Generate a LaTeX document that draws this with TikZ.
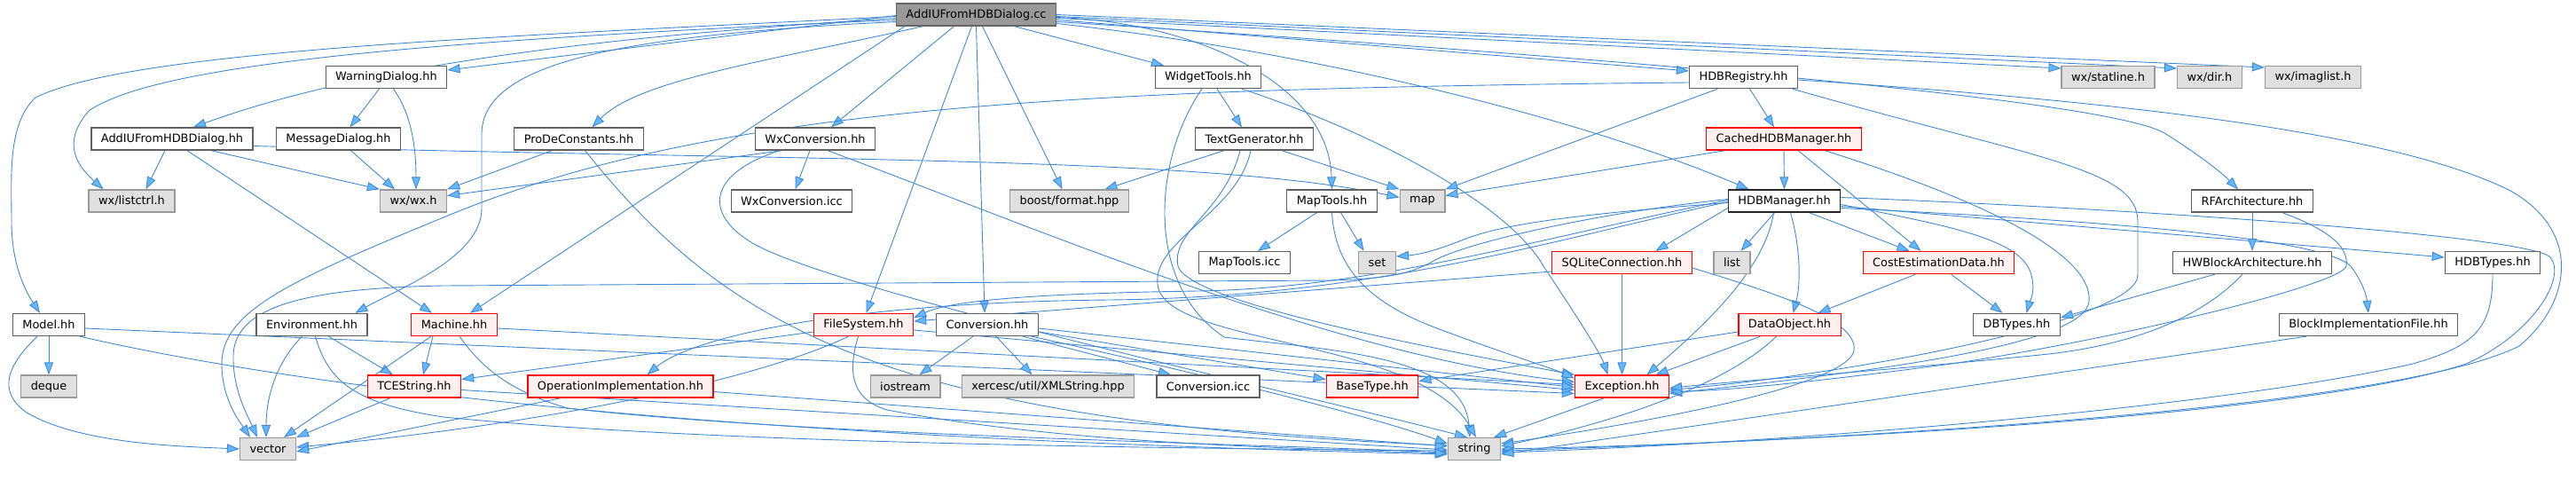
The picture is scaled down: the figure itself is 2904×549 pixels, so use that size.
\documentclass[tikz,border=0pt]{standalone}
\usepackage{fontspec}
\setmainfont{DejaVu Sans}
\usetikzlibrary{arrows.meta}
\pgfdeclarelayer{edges}
\pgfsetlayers{edges,main}
\definecolor{edgeblue}{HTML}{4188D4}
\definecolor{tipblue}{HTML}{63B8FF}
\definecolor{sysfill}{HTML}{E0E0E0}
\definecolor{truncfill}{HTML}{FFF0F0}

\begin{document}
\begin{tikzpicture}[x=1pt,y=-1pt,
  every node/.style={font=\fontsize{12.9}{15}\selectfont, minimum height=25pt, inner xsep=11pt, inner ysep=0pt, line width=1.3pt},
  hdr/.style={draw=black!62, fill=white},
  sys/.style={draw=black!40, fill=sysfill},
  trunc/.style={draw=red, fill=truncfill},
  rootfile/.style={draw=black!60, fill=black!40},
  inc/.style={draw=edgeblue, line width=0.9pt, -{Triangle[length=14pt,width=10pt,fill=tipblue]}}]
  \useasboundingbox (0,0) rectangle (2904,549);

  % rows of the include graph
  \node[rootfile] (cc) at (1100.5,16.5) {AddIUFromHDBDialog.cc};

  \node[hdr] (wdlg) at (435.5,87) {WarningDialog.hh};
  \node[hdr] (widget) at (1362,87) {WidgetTools.hh};
  \node[hdr] (hdbreg) at (1965.5,87) {HDBRegistry.hh};
  \node[sys] (statline) at (2376.5,87) {wx/statline.h};
  \node[sys] (dir) at (2491,87) {wx/dir.h};
  \node[sys] (imaglist) at (2607.5,87) {wx/imaglist.h};

  \node[hdr] (hh) at (194,156.5) {AddIUFromHDBDialog.hh};
  \node[hdr] (msg) at (381.5,156.5) {MessageDialog.hh};
  \node[hdr] (prode) at (652.5,156.5) {ProDeConstants.hh};
  \node[hdr] (wxconv) at (919,156.5) {WxConversion.hh};
  \node[hdr] (textgen) at (1414,156.5) {TextGenerator.hh};
  \node[trunc] (cached) at (2011,156.5) {CachedHDBManager.hh};

  \node[sys] (listctrl) at (148.5,226.5) {wx/listctrl.h};
  \node[sys] (wxh) at (466,226.5) {wx/wx.h};
  \node[hdr] (wxicc) at (892.5,226.5) {WxConversion.icc};
  \node[sys] (boost) at (1205.5,226.5) {boost/format.hpp};
  \node[hdr] (maptools) at (1501.5,226.5) {MapTools.hh};
  \node[sys] (map) at (1603.5,226.5) {map};
  \node[hdr, draw=black!85] (hdbman) at (2011.5,226.5) {HDBManager.hh};
  \node[hdr] (rfarch) at (2539,226.5) {RFArchitecture.hh};

  \node[hdr] (mticc) at (1403,296) {MapTools.icc};
  \node[sys] (set) at (1552.5,296) {set};
  \node[trunc] (sqlite) at (1828.5,296) {SQLiteConnection.hh};
  \node[sys] (list) at (1952.5,296) {list};
  \node[trunc] (costest) at (2185.5,296) {CostEstimationData.hh};
  \node[hdr] (hwblock) at (2539,296) {HWBlockArchitecture.hh};
  \node[hdr] (hdbtypes) at (2810,296) {HDBTypes.hh};

  \node[hdr] (model) at (55,366) {Model.hh};
  \node[hdr] (env) at (351.5,366) {Environment.hh};
  \node[trunc] (machine) at (512,366) {Machine.hh};
  \node[trunc] (fs) at (973.5,366) {FileSystem.hh};
  \node[hdr] (conv) at (1113,366) {Conversion.hh};
  \node[trunc] (dataobj) at (2017.5,366) {DataObject.hh};
  \node[hdr] (dbtypes) at (2273.5,366) {DBTypes.hh};
  \node[hdr] (blockimpl) at (2670,366) {BlockImplementationFile.hh};

  \node[sys] (deque) at (55,435.5) {deque};
  \node[trunc] (tcestr) at (467,435.5) {TCEString.hh};
  \node[trunc] (opimpl) at (699.5,435.5) {OperationImplementation.hh};
  \node[sys] (iostream) at (1020.5,435.5) {iostream};
  \node[sys] (xerces) at (1181.5,435.5) {xercesc/util/XMLString.hpp};
  \node[hdr] (convicc) at (1362,435.5) {Conversion.icc};
  \node[trunc] (basetype) at (1547,435.5) {BaseType.hh};
  \node[trunc] (exc) at (1828.5,435.5) {Exception.hh};

  \node[sys] (vector) at (302,506) {vector};
  \node[sys] (string) at (1662,506) {string};

  \begin{pgfonlayer}{edges}
  % AddIUFromHDBDialog.cc
  \draw[inc] ([yshift=-2]cc.west) .. controls (600,40) and (150,55) .. (40,110) .. controls (8,140) and (13,200) .. (13,250) .. controls (13,300) and (30,330) .. ([xshift=-10]model.north);
  \draw[inc] ([yshift=-4]cc.west) .. controls (700,40) and (420,70) .. ([xshift=24]hh.north);
  \draw[inc] ([yshift=-6]cc.west) .. controls (500,45) and (180,70) .. (100,125) .. controls (70,160) and (85,185) .. ([xshift=-32]listctrl.north);
  \draw[inc] ([yshift=-1]cc.west) -- ([yshift=8]wdlg.east);
  \draw[inc] ([xshift=-60]cc.south) .. controls (860,70) and (720,90) .. ([xshift=15]prode.north);
  \draw[inc] ([xshift=-25]cc.south) -- ([xshift=18]wxconv.north);
  \draw[inc] ([xshift=10]cc.south west) -- ([xshift=18]machine.north);
  \draw[inc] ([yshift=-8]cc.west) .. controls (700,40) and (545,70) .. (543,150) -- (543,235) .. controls (543,290) and (450,325) .. ([xshift=49]env.north);
  \draw[inc] ([xshift=-5]cc.south) -- ([xshift=3]fs.north);
  \draw[inc] (cc.south) -- ([xshift=-3]conv.north);
  \draw[inc] ([xshift=7]cc.south) -- ([xshift=-8]boost.north);
  \draw[inc] ([xshift=43]cc.south) -- ([xshift=-50]widget.north);
  \draw[inc] ([yshift=-3]cc.east) .. controls (1350,25) and (1498,95) .. (maptools.north);
  \draw[inc] ([yshift=-6]cc.east) -- ([yshift=7]hdbreg.west);
  \draw[inc] ([yshift=-10]cc.east) .. controls (1500,60) and (1800,140) .. ([xshift=-40]hdbman.north);
  \draw[inc] ([yshift=-4]cc.east) -- ([yshift=10]statline.west);
  \draw[inc] ([yshift=-2]cc.east) -- ([yshift=10]dir.west);
  \draw[inc] (cc.east) -- ([yshift=11]imaglist.west);
  \draw[inc] ([yshift=-8]cc.east) .. controls (1900,70) and (2380,115) .. (2440,150) .. controls (2480,175) and (2505,195) .. ([xshift=-16]rfarch.north);

  % dialogs and wx
  \draw[inc] ([xshift=-8]hh.south) -- ([xshift=16]listctrl.north);
  \draw[inc] ([xshift=44]hh.south) -- (wxh.north west);
  \draw[inc] ([xshift=17]hh.south) -- ([xshift=-25]machine.north);
  \draw[inc] ([yshift=-8]hh.east) .. controls (900,182) and (1350,175) .. ([yshift=4]map.west);
  \draw[inc] ([xshift=-8]wdlg.south) -- ([xshift=13]msg.north);
  \draw[inc] ([xshift=8]wdlg.south) .. controls (465,130) and (469,170) .. ([xshift=3]wxh.north);
  \draw[inc] ([xshift=14]msg.south) -- ([xshift=-21]wxh.north);
  \draw[inc] ([xshift=-30]prode.south) -- (wxh.north east);
  \draw[inc] ([xshift=7]prode.south) .. controls (820,370) and (1000,475) .. ([yshift=4]string.west);
  \draw[inc] ([xshift=-37]wxconv.south) -- ([yshift=6]wxh.east);
  \draw[inc] ([xshift=-6]wxconv.south) -- ([xshift=4]wxicc.north);
  \draw[inc] ([xshift=14]wxconv.south) .. controls (1150,250) and (1500,400) .. ([yshift=5]exc.west);
  \draw[inc] ([xshift=-40]wxconv.south) .. controls (800,195) and (790,240) .. (850,275) .. controls (950,330) and (1450,440) .. ([xshift=-8]string.north);

  % left part
  \draw[inc] ([xshift=-11]env.south) .. controls (310,410) and (300,450) .. ([xshift=-2]vector.north);
  \draw[inc] ([xshift=19]env.south) -- ([xshift=-24]tcestr.north);
  \draw[inc] ([xshift=4]env.south) .. controls (370,430) and (400,455) .. (500,470) .. controls (800,500) and (1300,505) .. ([yshift=-2]string.west);
  \draw[inc] ([xshift=-24]machine.south) -- ([xshift=10]tcestr.north);
  \draw[inc] ([xshift=-26]machine.south) -- ([xshift=18]vector.north);
  \draw[inc] ([xshift=6]machine.south) .. controls (540,410) and (570,440) .. (640,460) .. controls (900,490) and (1400,500) .. ([yshift=-4]string.west);
  \draw[inc] ([yshift=-4]machine.east) -- ([yshift=2]exc.west);
  \draw[inc] (model.south) -- (deque.north);
  \draw[inc] ([xshift=-13]model.south) .. controls (10,410) and (-5,440) .. (30,465) .. controls (90,500) and (200,503) .. (vector.west);
  \draw[inc] ([yshift=-4]model.east) -- ([yshift=-8]exc.west);
  \draw[inc] ([xshift=35]model.south) .. controls (400,450) and (900,495) .. ([yshift=-6]string.west);
  \draw[inc] ([xshift=-27]tcestr.south) -- (vector.north east);
  \draw[inc] ([yshift=-4]tcestr.east) -- ([yshift=-1]string.west);
  \draw[inc] ([yshift=-8]fs.west) -- ([yshift=8]tcestr.east);
  \draw[inc] ([xshift=-17]fs.south) .. controls (850,430) and (600,480) .. ([yshift=2]vector.east);
  \draw[inc] ([xshift=-6]fs.south) .. controls (955,420) and (960,450) .. (1000,462) .. controls (1200,500) and (1450,505) .. ([yshift=-5]string.west);
  \draw[inc] ([yshift=-6]fs.east) -- ([yshift=-4]exc.west);
  \draw[inc] ([xshift=-67]opimpl.south) -- ([yshift=-3]vector.east);
  \draw[inc] ([yshift=-6]opimpl.east) -- ([yshift=3]string.west);

  % Conversion and tools
  \draw[inc] ([xshift=-16]conv.south) -- ([xshift=16]iostream.north);
  \draw[inc] ([xshift=10]conv.south) -- ([xshift=-18]xerces.north);
  \draw[inc] ([xshift=40]conv.south) -- ([xshift=-42]convicc.north);
  \draw[inc] ([yshift=-4]conv.east) -- ([yshift=-1]exc.west);
  \draw[inc] ([yshift=-8]conv.east) -- ([yshift=8]basetype.west);
  \draw[inc] ([xshift=50]conv.south) .. controls (1350,420) and (1550,470) .. ([yshift=6]string.west);
  \draw[inc] ([xshift=10]widget.south) -- ([xshift=-14]textgen.north);
  \draw[inc] ([xshift=38]widget.south) .. controls (1550,150) and (1700,230) .. (1740,300) .. controls (1780,360) and (1805,400) .. ([xshift=-16]exc.north);
  \draw[inc] ([xshift=-7]widget.south) .. controls (1300,180) and (1290,320) .. (1380,380) .. controls (1500,395) and (1650,400) .. ([xshift=-5]string.north);
  \draw[inc] ([xshift=-34]textgen.south) -- ([xshift=40]boost.north);
  \draw[inc] ([xshift=31]textgen.south) -- (map.north west);
  \draw[inc] ([xshift=-16]textgen.south) .. controls (1380,240) and (1320,260) .. (1328,300) .. controls (1340,340) and (1600,390) .. (exc.north west);
  \draw[inc] ([xshift=-4]textgen.south) .. controls (1395,240) and (1300,270) .. (1305,320) .. controls (1310,390) and (1600,380) .. ([xshift=2]string.north);
  \draw[inc] ([xshift=-17]maptools.south) -- ([xshift=15]mticc.north);
  \draw[inc] ([xshift=10]maptools.south) -- ([xshift=-15]set.north);
  \draw[inc] (maptools.south) .. controls (1505,300) and (1540,340) .. (1620,370) .. controls (1700,400) and (1750,415) .. ([yshift=9]exc.west);

  % HDB part
  \draw[inc] ([xshift=7]hdbreg.south) -- ([xshift=-11]cached.north);
  \draw[inc] ([xshift=-29]hdbreg.south) -- (map.north east);
  \draw[inc] ([yshift=-6]hdbreg.west) .. controls (1200,100) and (800,120) .. (500,245) .. controls (330,315) and (250,350) .. (250,410) .. controls (250,450) and (270,475) .. ([xshift=-20]vector.north);
  \draw[inc] ([xshift=55]hdbreg.south) .. controls (2300,180) and (2410,190) .. (2410,250) -- (2410,310) .. controls (2410,360) and (2100,420) .. ([yshift=-4]exc.east);
  \draw[inc] ([yshift=-3]hdbreg.east) .. controls (2400,115) and (2700,150) .. (2830,215) .. controls (2910,260) and (2900,340) .. (2840,390) .. controls (2700,460) and (2100,495) .. ([yshift=-2]string.east);
  \draw[inc] (cached.south) -- (hdbman.north);
  \draw[inc] ([xshift=-66]cached.south) -- ([yshift=6]map.east);
  \draw[inc] ([xshift=16]cached.south) -- ([xshift=-20]costest.north);
  \draw[inc] ([xshift=46]cached.south) .. controls (2250,230) and (2360,290) .. (2355,340) .. controls (2350,390) and (2100,420) .. ([yshift=-8]exc.east);
  \draw[inc] ([xshift=-11]hdbman.south) -- ([xshift=10]list.north);
  \draw[inc] ([yshift=-2]hdbman.west) .. controls (1800,240) and (1700,250) .. (1650,270) .. controls (1620,282) and (1600,287) .. ([yshift=7]set.east);
  \draw[inc] ([yshift=-8]hdbman.west) -- ([xshift=38]sqlite.north);
  \draw[inc] ([xshift=28]hdbman.south) -- ([xshift=-33]costest.north);
  \draw[inc] ([xshift=7]hdbman.south) .. controls (2030,280) and (2030,320) .. ([xshift=4]dataobj.north);
  \draw[inc] ([yshift=-4]hdbman.east) .. controls (2200,255) and (2280,270) .. (2290,310) .. controls (2295,330) and (2288,340) .. ([xshift=11]dbtypes.north);
  \draw[inc] ([yshift=-6]hdbman.east) -- ([yshift=6]hdbtypes.west);
  \draw[inc] ([yshift=-8]hdbman.east) .. controls (2400,250) and (2620,270) .. (2650,300) .. controls (2665,320) and (2668,335) .. (blockimpl.north);
  \draw[inc] ([yshift=4]hdbman.east) .. controls (2400,235) and (2850,265) .. (2875,290) .. controls (2895,315) and (2850,380) .. (2780,410) .. controls (2600,470) and (2000,500) .. (string.east);
  \draw[inc] ([xshift=-12]hdbman.south) .. controls (1990,300) and (1930,360) .. ([xshift=28]exc.north);
  \draw[inc] ([yshift=2]hdbman.west) .. controls (1800,240) and (1660,272) .. (1620,292) .. controls (1595,306) and (1575,314) .. (1500,316) -- (500,322) .. controls (330,325) and (265,350) .. (263,400) .. controls (262,440) and (280,470) .. ([xshift=-12]vector.north);
  \draw[inc] ([yshift=1]hdbman.west) .. controls (1750,265) and (1550,325) .. (1350,328) .. controls (1150,331) and (1070,340) .. ([yshift=8]fs.east);
  \draw[inc] ([yshift=-1]hdbman.west) .. controls (1750,270) and (1550,335) .. (1250,338) .. controls (950,341) and (780,380) .. ([xshift=30]opimpl.north);
  \draw[inc] (sqlite.south) -- (exc.north);
  \draw[inc] ([yshift=-10]sqlite.west) -- ([yshift=4]fs.east);
  \draw[inc] ([yshift=-6]sqlite.east) .. controls (2000,330) and (2095,360) .. (2090,395) .. controls (2085,430) and (1900,470) .. ([yshift=6]string.east);
  \draw[inc] ([xshift=-26]costest.south) -- ([xshift=32]dataobj.north);
  \draw[inc] ([xshift=14]costest.south) -- ([xshift=-16]dbtypes.north);
  \draw[inc] ([xshift=-33]dataobj.south) -- ([xshift=38]exc.north);
  \draw[inc] ([xshift=-15]dataobj.south) .. controls (1940,440) and (1800,480) .. ([yshift=3]string.east);
  \draw[inc] ([yshift=-8]dataobj.west) -- ([yshift=6]basetype.east);
  \draw[inc] (rfarch.south) -- (hwblock.north);
  \draw[inc] ([xshift=34]rfarch.south) .. controls (2600,250) and (2650,270) .. (2645,300) .. controls (2640,320) and (2400,380) .. (2200,410) .. controls (2050,430) and (1950,440) .. ([yshift=-6]exc.east);
  \draw[inc] ([xshift=-42]hwblock.south) -- ([yshift=8]dbtypes.east);
  \draw[inc] ([xshift=-11]hwblock.south) .. controls (2480,360) and (2400,390) .. (2300,400) .. controls (2100,420) and (1950,430) .. ([yshift=-2]exc.east);
  \draw[inc] (hdbtypes.south) .. controls (2810,370) and (2790,390) .. (2720,410) .. controls (2500,460) and (2000,500) .. ([yshift=-4]string.east);
  \draw[inc] ([xshift=-70]blockimpl.south) -- ([yshift=-6]string.east);
  \draw[inc] ([xshift=-20]exc.south) -- ([xshift=22]string.north);
  \end{pgfonlayer}
\end{tikzpicture}
\end{document}
